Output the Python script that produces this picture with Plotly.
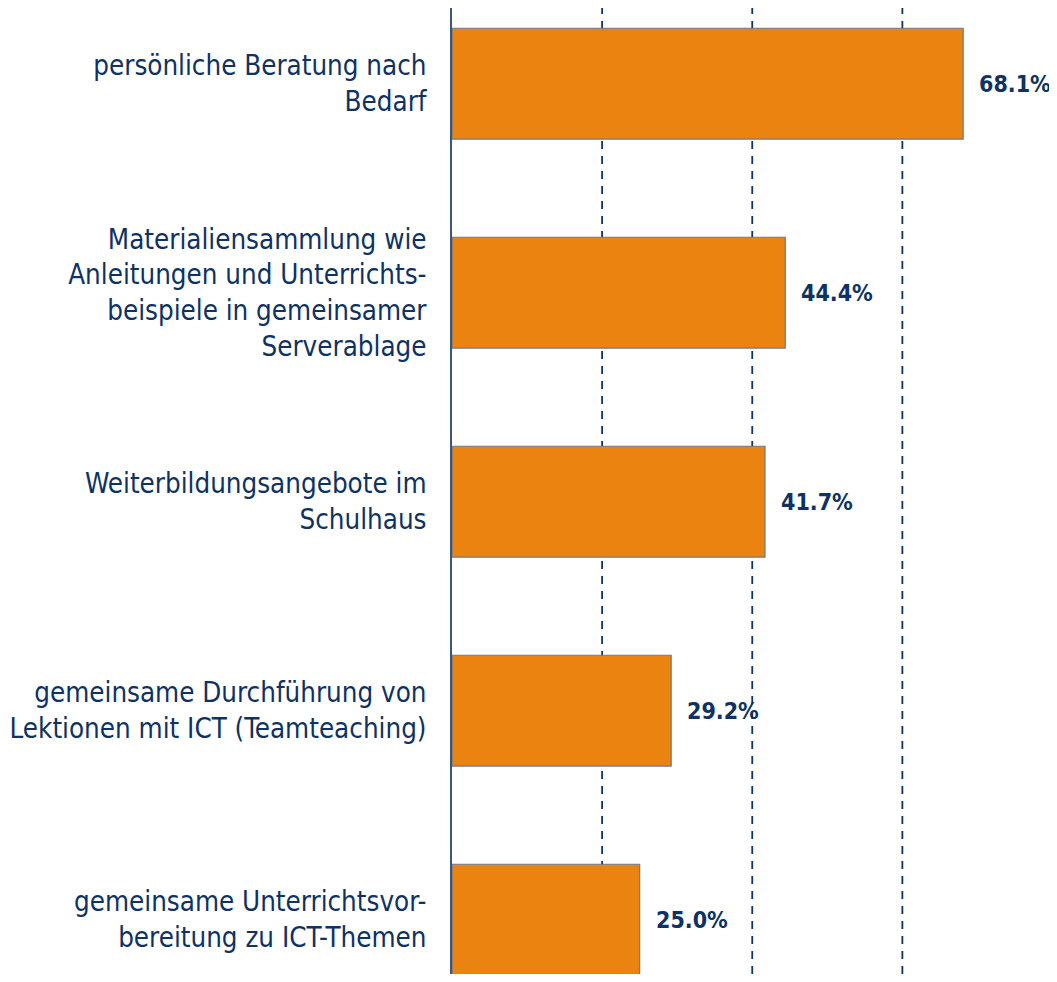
import plotly.graph_objects as go

categories = [
    "persönliche Beratung nach<br>Bedarf",
    "Materialiensammlung wie<br>Anleitungen und Unterrichts-<br>beispiele in gemeinsamer<br>Serverablage",
    "Weiterbildungsangebote im<br>Schulhaus",
    "gemeinsame Durchführung von<br>Lektionen mit ICT (Teamteaching)",
    "gemeinsame Unterrichtsvor-<br>bereitung zu ICT-Themen",
]
values = [68.1, 44.4, 41.7, 29.2, 25.0]
value_labels = ["68.1%", "44.4%", "41.7%", "29.2%", "25.0%"]
grid_ticks = [20, 40, 60, 80]

NAVY = "#0d3263"
ORANGE = "#eb8310"
FONT = "DejaVu Sans Condensed, sans-serif"

fig = go.Figure()

for g in grid_ticks:
    fig.add_vline(x=g, line=dict(color=NAVY, width=1.8, dash="8px,7px"), layer="below")

fig.add_trace(go.Bar(
    x=values,
    y=categories,
    orientation="h",
    width=0.53,
    marker=dict(color=ORANGE, line=dict(color="#6b7a90", width=1.2)),
    hoverinfo="skip",
))

for v, c, t in zip(values, categories, value_labels):
    fig.add_annotation(
        x=v, y=c, text="<b>" + t + "</b>", showarrow=False,
        xanchor="left", yanchor="middle", xshift=14,
        font=dict(family=FONT, size=23, color=NAVY),
    )

fig.update_layout(
    width=1049, height=966,
    margin=dict(l=444, r=0, t=0, b=0),
    paper_bgcolor="white", plot_bgcolor="white",
    showlegend=False,
    xaxis=dict(
        range=[0, 80.6], showticklabels=False,
        showgrid=False, zeroline=False, showline=False, ticks="", automargin=False,
    ),
    yaxis=dict(
        type="category", range=[4.26, -0.362], automargin=False,
        showline=True, linecolor="#3a567c", linewidth=2,
        showgrid=False, ticks="", ticklabelstandoff=18,
        tickfont=dict(family=FONT, size=27.5, color=NAVY),
    ),
)

fig.write_html("out.html")
